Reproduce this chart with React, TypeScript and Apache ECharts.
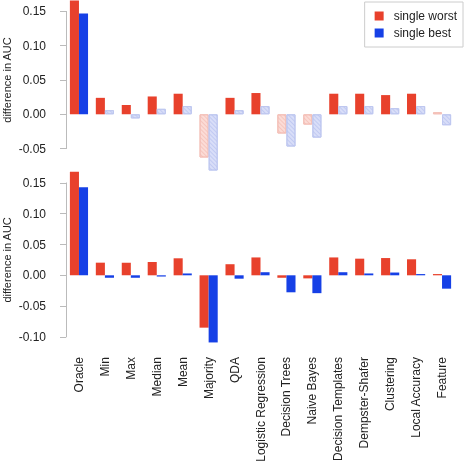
import React, { useEffect, useRef } from "react";
import * as echarts from "echarts";

const categories = [
  "Oracle", "Min", "Max", "Median", "Mean", "Majority", "QDA",
  "Logistic Regression", "Decision Trees", "Naive Bayes", "Decision Templates",
  "Dempster-Shafer", "Clustering", "Local Accuracy", "Feature",
];
const seriesNames = ["single worst", "single best"];

// top panel
const topWorst = [0.18, 0.024, 0.0136, 0.026, 0.03, -0.063, 0.024, 0.031, -0.028, -0.015, 0.03, 0.03, 0.028, 0.03, 0.003];
const topBest = [0.147, 0.006, -0.006, 0.008, 0.012, -0.082, 0.006, 0.012, -0.047, -0.034, 0.012, 0.012, 0.009, 0.012, -0.016];
const topWorstSig = [true, true, true, true, true, false, true, true, false, false, true, true, true, true, false];
const topBestSig = [true, false, false, false, false, false, false, false, false, false, false, false, false, false, false];

// bottom panel
const bottomWorst = [0.168, 0.0205, 0.0205, 0.0216, 0.0276, -0.085, 0.018, 0.029, -0.004, -0.005, 0.029, 0.027, 0.028, 0.026, 0.002];
const bottomBest = [0.143, -0.004, -0.004, -0.002, 0.003, -0.109, -0.0055, 0.005, -0.0276, -0.029, 0.005, 0.003, 0.0045, 0.002, -0.0217];

const topTicks = { min: -0.05, max: 0.15, step: 0.05 };
const bottomTicks = { min: -0.1, max: 0.15, step: 0.05 };

const RED = "#e8412c";
const BLUE = "#1640e6";
const RED_FADED = "#fbdcd7";
const BLUE_FADED = "#d9def8";
const FONT = "Liberation Sans, Arial, Helvetica, sans-serif";

function fadedItem(v: number, sig: boolean, solid: string, faded: string, border: string, hatch: string) {
  if (sig) return { value: v, itemStyle: { color: solid } };
  return {
    value: v,
    itemStyle: {
      color: faded,
      borderColor: border,
      borderWidth: 1,
      decal: {
        symbol: "rect",
        symbolSize: 1,
        dashArrayX: [1, 0],
        dashArrayY: [1, 2],
        rotation: Math.PI / 4,
        color: hatch,
      },
    },
  };
}

export default function App() {
  const ref = useRef<HTMLDivElement>(null);
  useEffect(() => {
    if (!ref.current) return;
    const chart = echarts.init(ref.current, undefined, { renderer: "svg" });
    const left = 66;
    const right = 9;
    // pixel scales
    const topZero = 114.3, topK = 686;
    const botZero = 275.3, botK = 616;
    const topMax = 0.166, topMin = -0.085;
    const botMax = 0.17, botMin = -0.11;

    const axisLabelStyle = {
      fontSize: 12,
      color: "#222",
      fontFamily: FONT,
      margin: 8,
      formatter: (v: number) => v.toFixed(2),
    };

    const visibleAxis = (t: { min: number; max: number; step: number }, gridIndex: number) => ({
      type: "value",
      gridIndex,
      min: t.min,
      max: t.max,
      interval: t.step,
      offset: 12,
      axisLine: { show: true, lineStyle: { color: "#bbb", width: 1 } },
      axisTick: { show: true, length: 6, lineStyle: { color: "#bbb" } },
      axisLabel: axisLabelStyle,
      splitLine: { show: false },
      name: "difference in AUC",
      nameLocation: "middle",
      nameGap: 42,
      nameMoveOverlap: false,
      nameTextStyle: { fontSize: 11, color: "#222", fontFamily: FONT },
    });

    const g = (top: number, height: number) => ({
      left, right, top, height, containLabel: false, outerBoundsMode: "none",
    });

    chart.setOption({
      animation: false,
      textStyle: { fontFamily: FONT },
      legend: {
        data: seriesNames,
        orient: "vertical",
        right: 1,
        top: 2,
        icon: "rect",
        itemWidth: 9,
        itemHeight: 9,
        itemGap: 5,
        padding: [8, 6, 8, 10],
        borderColor: "#ccc",
        borderWidth: 1,
        textStyle: { fontSize: 12, color: "#222", fontFamily: FONT, padding: [0, 0, 0, 5] },
      },
      grid: [
        g(topZero - topMax * topK, (topMax - topMin) * topK),
        g(topZero - topTicks.max * topK, (topTicks.max - topTicks.min) * topK),
        g(botZero - botMax * botK, (botMax - botMin) * botK),
        g(botZero - bottomTicks.max * botK, (bottomTicks.max - bottomTicks.min) * botK),
      ],
      xAxis: [
        { type: "category", gridIndex: 0, data: categories, axisLine: { show: false }, axisTick: { show: false }, axisLabel: { show: false } },
        { type: "value", gridIndex: 1, show: false },
        {
          type: "category", gridIndex: 2, data: categories,
          axisLine: { show: false }, axisTick: { show: false },
          axisLabel: { rotate: 90, interval: 0, margin: 14, fontSize: 12, color: "#222", fontFamily: FONT },
        },
        { type: "value", gridIndex: 3, show: false },
      ],
      yAxis: [
        { type: "value", gridIndex: 0, min: topMin, max: topMax, show: false },
        visibleAxis(topTicks, 1),
        { type: "value", gridIndex: 2, min: botMin, max: botMax, show: false },
        visibleAxis(bottomTicks, 3),
      ],
      series: [
        {
          name: seriesNames[0], type: "bar", xAxisIndex: 0, yAxisIndex: 0,
          barGap: "0%", barCategoryGap: "30%", color: RED, clip: true,
          data: topWorst.map((v, i) => fadedItem(v, topWorstSig[i], RED, RED_FADED, "#f4c0b8", "rgba(240,170,160,0.45)")),
        },
        {
          name: seriesNames[1], type: "bar", xAxisIndex: 0, yAxisIndex: 0,
          barGap: "0%", barCategoryGap: "30%", color: BLUE, clip: true,
          data: topBest.map((v, i) => fadedItem(v, topBestSig[i], BLUE, BLUE_FADED, "#bfc8f0", "rgba(165,178,235,0.45)")),
        },
        {
          name: seriesNames[0], type: "bar", xAxisIndex: 2, yAxisIndex: 2,
          barGap: "0%", barCategoryGap: "30%", color: RED, data: bottomWorst,
        },
        {
          name: seriesNames[1], type: "bar", xAxisIndex: 2, yAxisIndex: 2,
          barGap: "0%", barCategoryGap: "30%", color: BLUE, data: bottomBest,
        },
      ],
    });
    return () => chart.dispose();
  }, []);
  return <div ref={ref} style={{ position: "fixed", left: 0, top: 0, width: 464, height: 461 }} />;
}
